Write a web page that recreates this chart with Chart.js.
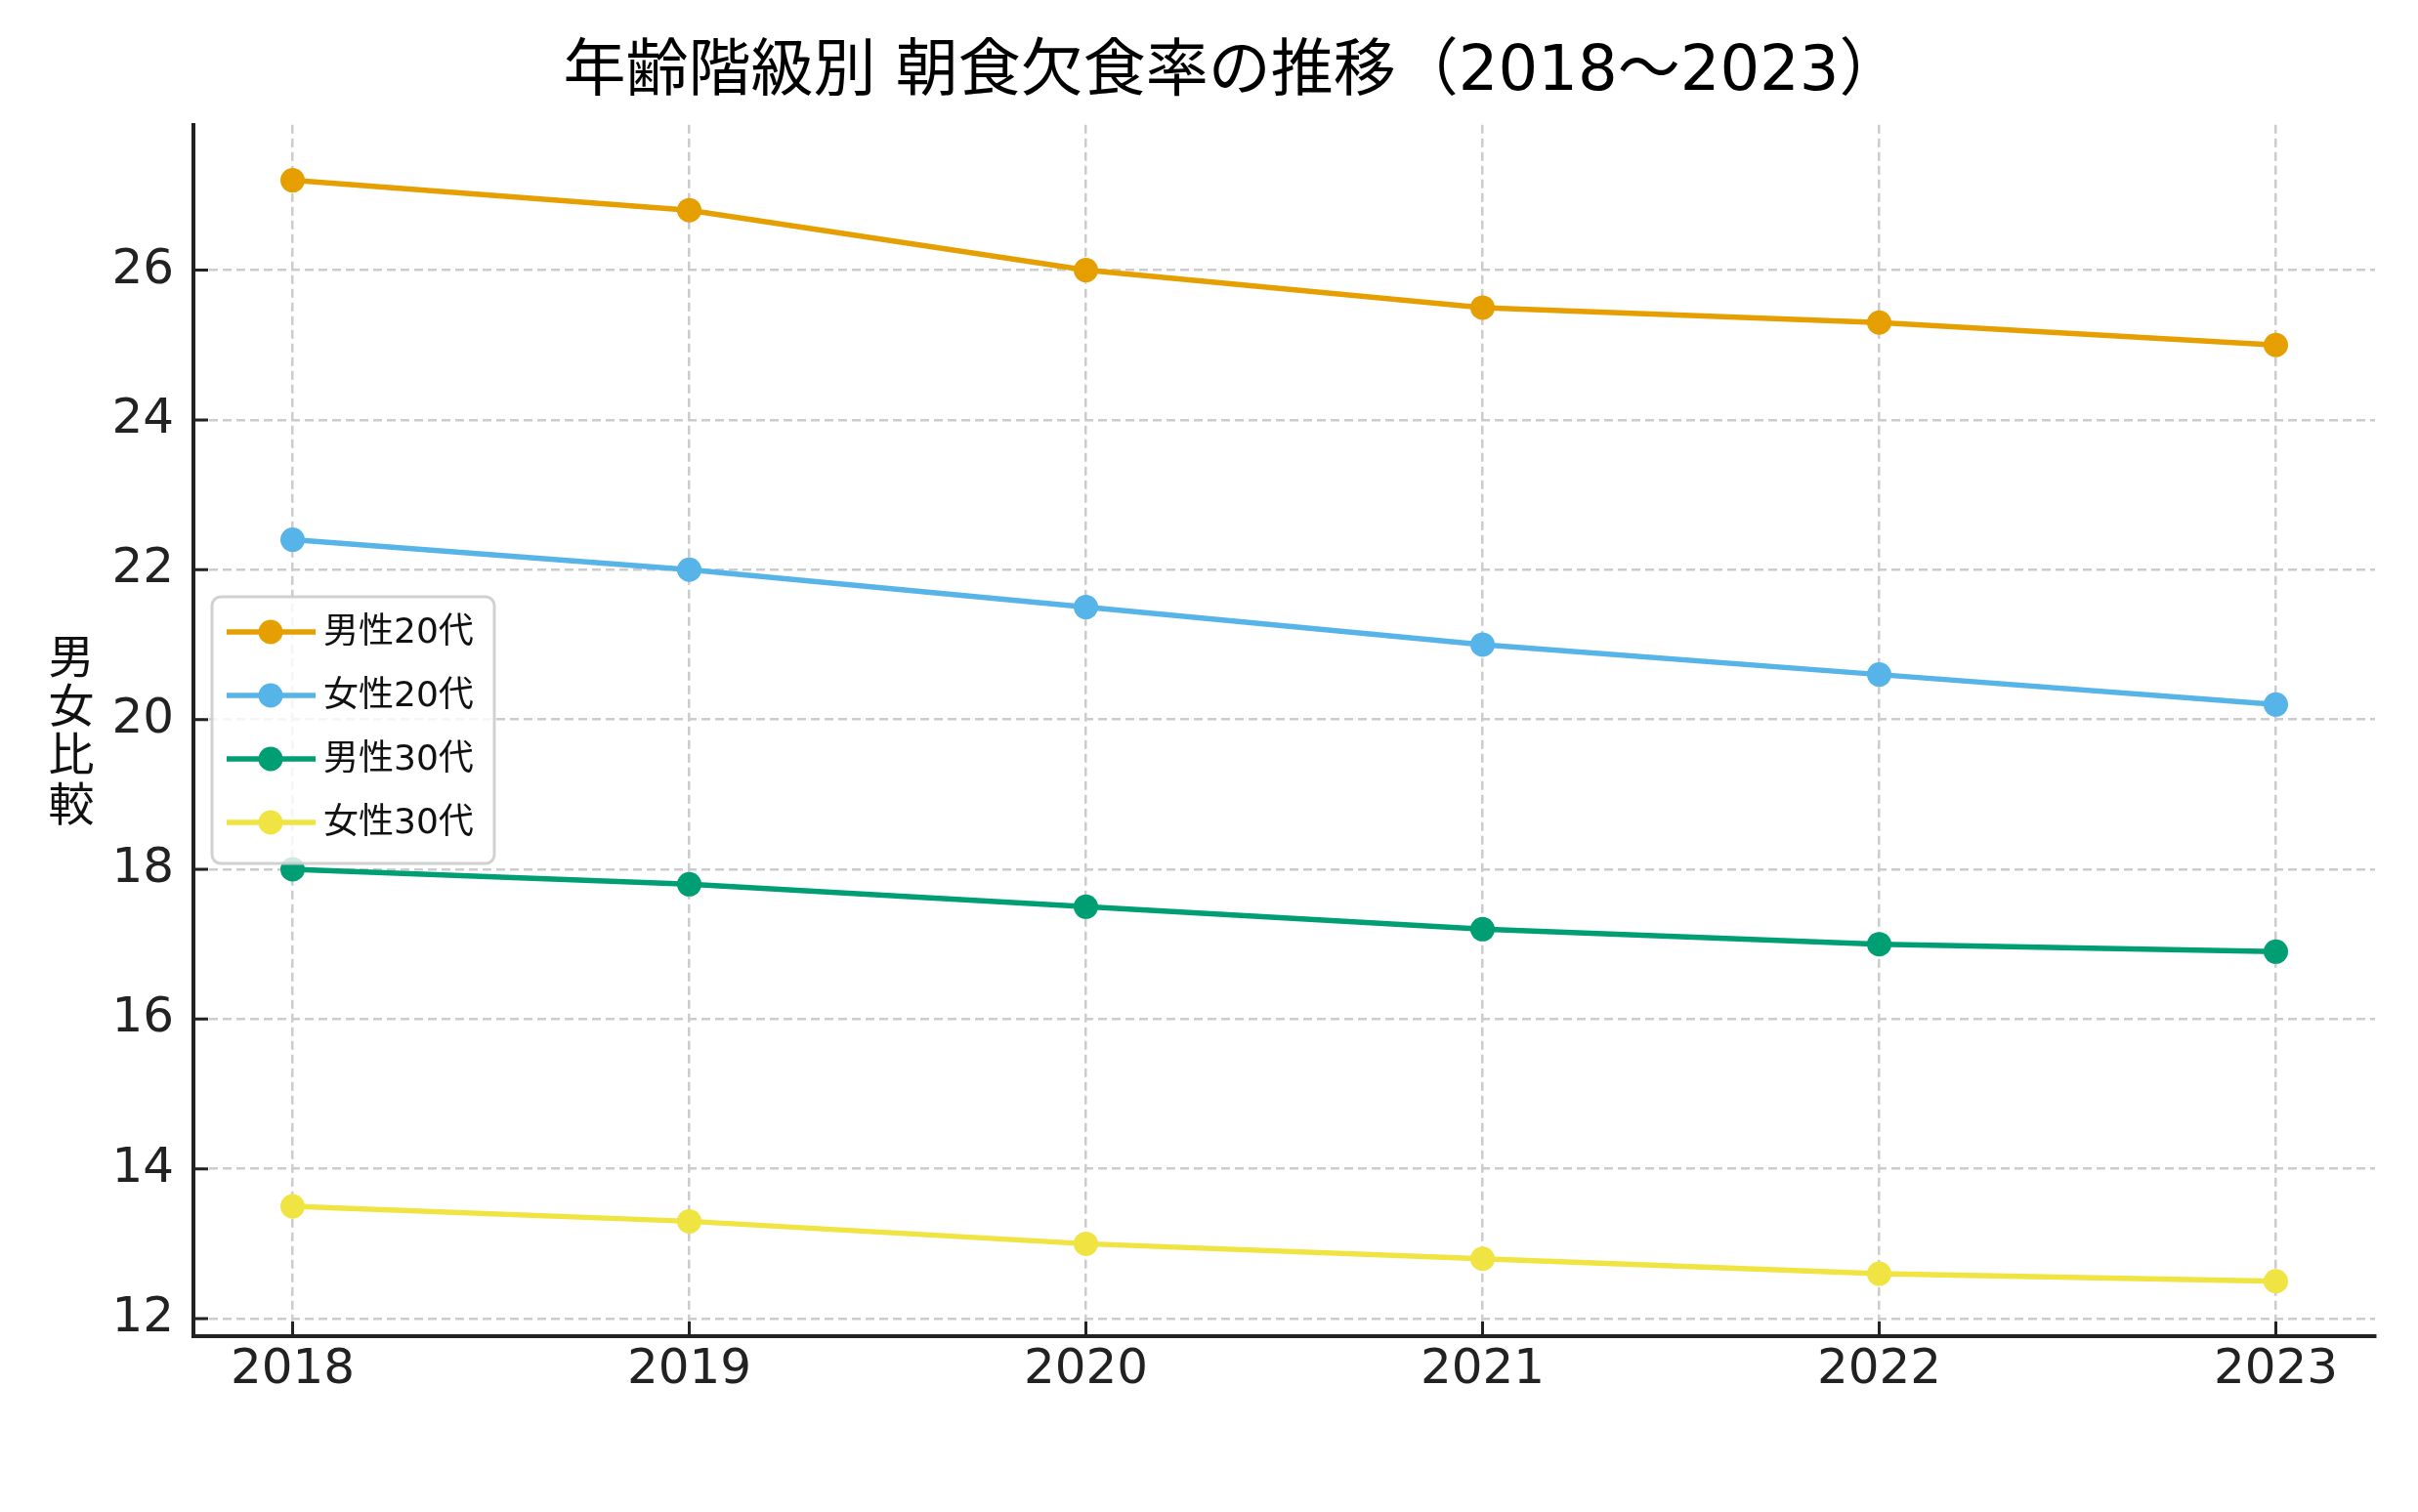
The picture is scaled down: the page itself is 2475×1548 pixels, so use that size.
<!DOCTYPE html>
<html lang="ja">
<head>
<meta charset="utf-8">
<title>年齢階級別 朝食欠食率の推移</title>
<script src="https://cdn.jsdelivr.net/npm/chart.js@4.4.1/dist/chart.umd.min.js"></script>
<style>
    html, body { margin: 0; padding: 0; background: #fff; }
    #wrap { width: 2475px; height: 1548px; position: relative; }
</style>
</head>
<body>
<div id="wrap"><canvas id="breakfastChart"></canvas></div>
<script>
const years = [2018, 2019, 2020, 2021, 2022, 2023];

const male20s   = [27.2, 26.8, 26.0, 25.5, 25.3, 25.0];
const female20s = [22.4, 22.0, 21.5, 21.0, 20.6, 20.2];
const male30s   = [18.0, 17.8, 17.5, 17.2, 17.0, 16.9];
const female30s = [13.5, 13.3, 13.0, 12.8, 12.6, 12.5];

const seriesNames = ['男性20代', '女性20代', '男性30代', '女性30代'];
const seriesColors = ['#E69F00', '#56B4E9', '#009E73', '#F0E442'];

const titleText = '年齢階級別 朝食欠食率の推移（2018〜2023）';
const yAxisLabel = '男女比較';

// latin glyphs from DejaVu, CJK falls back to Noto
const MIXED = '"DejaVu Sans", "Noto Sans CJK JP", sans-serif';
const CJK = '"Noto Sans CJK JP", "Noto Sans", sans-serif';
const LATIN = '"DejaVu Sans", sans-serif';

function toPoints(values) {
    return values.map((v, i) => ({ x: years[i], y: v }));
}

// vertical stacked y label, one char per line
const yLabelPlugin = {
    id: 'yLabel',
    afterDraw(chart) {
        const ctx = chart.ctx;
        ctx.save();
        ctx.font = '47px ' + CJK;
        ctx.fillStyle = '#111';
        ctx.textAlign = 'center';
        ctx.textBaseline = 'middle';
        Array.from(yAxisLabel).forEach((c, i) => {
            ctx.fillText(c, 73, 671 + i * 50.3);
        });
        ctx.restore();
    }
};

// tick marks pointing into the plot
const innerTicksPlugin = {
    id: 'innerTicks',
    afterDraw(chart) {
        const ctx = chart.ctx;
        const area = chart.chartArea;
        const xs = chart.scales.x, ys = chart.scales.y;
        ctx.save();
        ctx.strokeStyle = '#222';
        ctx.lineWidth = 3;
        ctx.beginPath();
        ys.ticks.forEach(t => {
            const py = ys.getPixelForValue(t.value);
            ctx.moveTo(area.left, py);
            ctx.lineTo(area.left + 15, py);
        });
        xs.ticks.forEach(t => {
            const px = xs.getPixelForValue(t.value);
            ctx.moveTo(px, area.bottom);
            ctx.lineTo(px, area.bottom - 15);
        });
        ctx.stroke();
        ctx.restore();
    }
};

// legend box with line + marker samples
const boxLegendPlugin = {
    id: 'boxLegend',
    afterDatasetsDraw(chart) {
        const ctx = chart.ctx;
        const x0 = 217, y0 = 611, w = 289, h = 273, r = 9;
        ctx.save();
        ctx.beginPath();
        ctx.roundRect(x0, y0, w, h, r);
        ctx.fillStyle = 'rgba(255,255,255,0.8)';
        ctx.fill();
        ctx.lineWidth = 3;
        ctx.strokeStyle = 'rgba(204,204,204,0.9)';
        ctx.stroke();

        chart.data.datasets.forEach((ds, i) => {
            const cy = 647 + i * 65;
            ctx.strokeStyle = ds.borderColor;
            ctx.lineWidth = 5.5;
            ctx.beginPath();
            ctx.moveTo(232, cy);
            ctx.lineTo(323, cy);
            ctx.stroke();
            ctx.fillStyle = ds.borderColor;
            ctx.beginPath();
            ctx.arc(277, cy, 12.5, 0, Math.PI * 2);
            ctx.fill();
            ctx.fillStyle = '#111';
            ctx.font = '36px ' + MIXED;
            ctx.textAlign = 'left';
            ctx.textBaseline = 'middle';
            ctx.fillText(ds.label, 331, cy + 2);
        });
        ctx.restore();
    }
};

const allValues = [male20s, female20s, male30s, female30s];

const ctx = document.getElementById('breakfastChart').getContext('2d');
new Chart(ctx, {
    type: 'line',
    data: {
        datasets: allValues.map((vals, i) => ({
            label: seriesNames[i],
            data: toPoints(vals),
            borderColor: seriesColors[i],
            backgroundColor: seriesColors[i],
            pointBackgroundColor: seriesColors[i],
            borderWidth: 5.5,
            pointRadius: 12.5,
            pointBorderWidth: 0,
            tension: 0,
            fill: false
        }))
    },
    options: {
        responsive: true,
        maintainAspectRatio: false,
        devicePixelRatio: 1,
        animation: false,
        layout: { padding: { left: 92, right: 44, top: 0, bottom: 0 } },
        plugins: {
            legend: { display: false },
            tooltip: { enabled: false },
            title: {
                display: true,
                text: titleText,
                color: '#000',
                font: { family: MIXED, size: 64, weight: 'normal', lineHeight: 1.2 },
                padding: { top: 37, bottom: 14 }
            }
        },
        scales: {
            x: {
                type: 'linear',
                min: 2017.75,
                max: 2023.25,
                afterFit: function(scale) { scale.height = 180; },
                ticks: {
                    stepSize: 1,
                    includeBounds: false,
                    padding: 5,
                    color: '#222',
                    font: { family: LATIN, size: 50 },
                    callback: v => String(v)
                },
                grid: { color: '#cccccc', lineWidth: 2.5, drawTicks: false },
                border: { display: true, color: '#222', width: 4, dash: [9, 5] }
            },
            y: {
                min: 11.766,
                max: 27.94,
                afterFit: function(scale) { scale.width = 106; },
                ticks: {
                    stepSize: 2,
                    includeBounds: false,
                    padding: 20,
                    color: '#222',
                    font: { family: LATIN, size: 50 }
                },
                grid: { color: '#cccccc', lineWidth: 2.5, drawTicks: false },
                border: { display: true, color: '#222', width: 4, dash: [9, 5] }
            }
        }
    },
    plugins: [yLabelPlugin, innerTicksPlugin, boxLegendPlugin]
});
</script>
</body>
</html>
